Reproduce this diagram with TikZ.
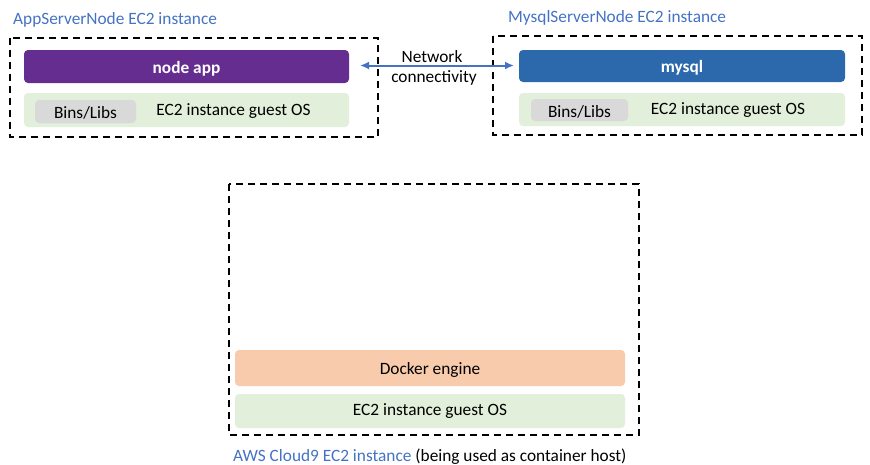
\documentclass[tikz,border=0pt]{standalone}
\usepackage{fontspec}
\setmainfont{Carlito}
\usetikzlibrary{arrows.meta}
\definecolor{ttlblue}{HTML}{4472C4}
\definecolor{apppurple}{HTML}{652D90}
\definecolor{sqlblue}{HTML}{2B68AC}
\definecolor{osgreen}{HTML}{E2EFDA}
\definecolor{libgray}{HTML}{D9D9D9}
\definecolor{dockorange}{HTML}{F8CBAD}
\tikzset{
  every node/.style={font=\fontsize{17.3}{19}\selectfont, inner sep=0pt, yshift=-1.5pt},
  hostbox/.style={draw=black, line width=1.8pt, dash pattern=on 7pt off 5pt},
  layer/.style={rounded corners=4pt},
  lbl/.style={text=ttlblue, anchor=west},
  boldtxt/.style={text=white, font=\fontsize{17.3}{19}\selectfont\bfseries},
}
\begin{document}
\begin{tikzpicture}[x=1pt,y=-1pt]
\useasboundingbox (0,0) rectangle (870,464);
% left host
\draw[hostbox] (10,38) rectangle (378,137);
\node[lbl] (appttl) at (13,18) {AppServerNode EC2 instance};
\fill[layer, apppurple] (24,50) rectangle (349,83);
\node[boldtxt] (app) at (186.5,67) {node app};
\fill[layer, osgreen] (24,93) rectangle (349,127);
\fill[layer, libgray] (35,100) rectangle (136,123);
\node (lib1) at (85.5,111) {Bins/Libs};
\node (os1) at (233.5,110) {EC2 instance guest OS};
% right host
\draw[hostbox] (493,36) rectangle (862,135);
\node[lbl] (sqlttl) at (508,16) {MysqlServerNode EC2 instance};
\fill[layer, sqlblue] (519,50) rectangle (845,82);
\node[boldtxt] (sql) at (682,66) {mysql};
\fill[layer, osgreen] (519,93) rectangle (845,126);
\fill[layer, libgray] (531,99) rectangle (628,121);
\node (lib2) at (579.5,110) {Bins/Libs};
\node (os2) at (728,109) {EC2 instance guest OS};
% network
\coordinate (arrL) at (360,64);
\coordinate (arrR) at (514,64);
\draw[ttlblue, line width=2pt, {Latex[length=9pt,width=8pt]}-{Latex[length=9pt,width=8pt]}] (arrL) -- (arrR);
\node (net1) at (432,55) {Network};
\node (net2) at (434,76) {connectivity};
% cloud9 host
\draw[hostbox] (229,184) rectangle (639,435);
\fill[layer, dockorange] (235,350) rectangle (625,386);
\node (dock) at (430,368) {Docker engine};
\fill[layer, osgreen] (235,394) rectangle (625,428);
\node (os3) at (430,410) {EC2 instance guest OS};
\node[anchor=west] (c9ttl) at (233,455) {\textcolor{ttlblue}{AWS Cloud9 EC2 instance} (being used as container host)};
\end{tikzpicture}
\end{document}
